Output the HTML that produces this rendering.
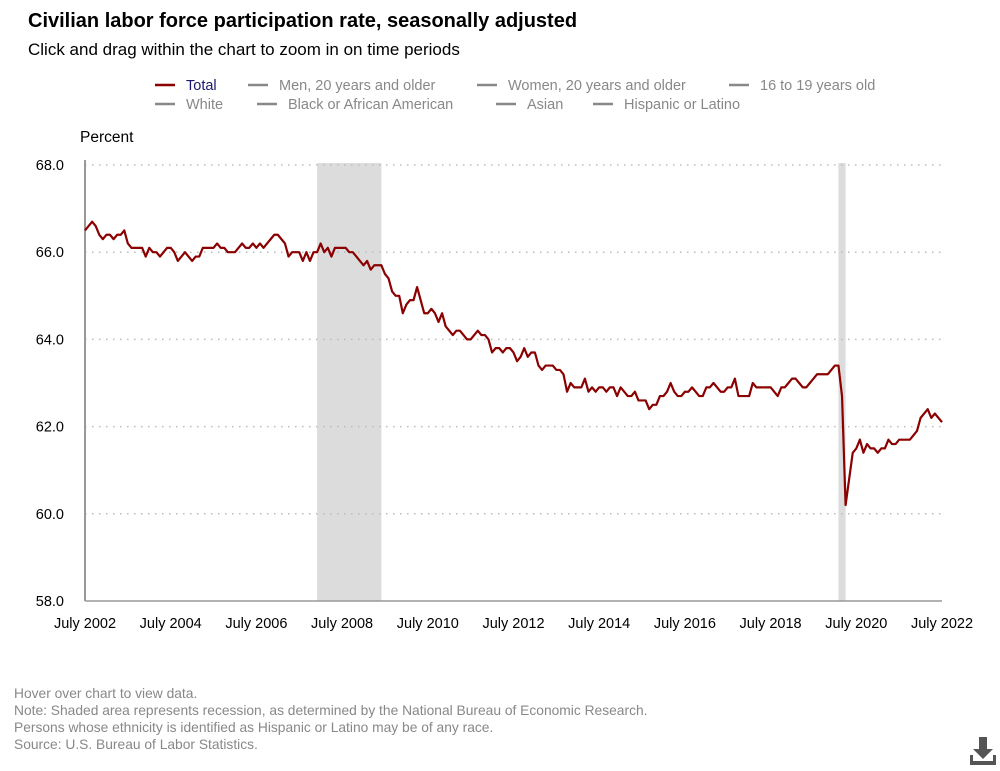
<!DOCTYPE html>
<html><head><meta charset="utf-8"><style>
body{margin:0;background:#fff;font-family:"Liberation Sans",Arial,sans-serif;}
#wrap{position:relative;width:1000px;height:771px;overflow:hidden;}
.t{position:absolute;white-space:nowrap;}
</style></head><body>
<div id="wrap">
<div class="t" style="left:28px;top:10px;font-size:20px;font-weight:bold;color:#000;">Civilian labor force participation rate, seasonally adjusted</div>
<div class="t" style="left:28px;top:40px;font-size:17px;color:#000;">Click and drag within the chart to zoom in on time periods</div>
<svg id="chart" width="1000" height="771" style="position:absolute;left:0;top:0"></svg>
<div class="t" style="left:14px;top:686px;font-size:13.8px;color:#888;">Hover over chart to view data.</div>
<div class="t" style="left:14px;top:703px;font-size:13.8px;color:#888;">Note: Shaded area represents recession, as determined by the National Bureau of Economic Research.</div>
<div class="t" style="left:14px;top:720px;font-size:13.8px;color:#888;">Persons whose ethnicity is identified as Hispanic or Latino may be of any race.</div>
<div class="t" style="left:14px;top:737px;font-size:13.8px;color:#888;">Source: U.S. Bureau of Labor Statistics.</div>
<svg width="30" height="34" style="position:absolute;left:968px;top:735px">
<path d="M11 2h8v12h6l-10 10-10-10h6z" fill="#555"/><rect x="2" y="26" width="26" height="4" fill="#555"/><rect x="2" y="20" width="3" height="8" fill="#555"/><rect x="25" y="20" width="3" height="8" fill="#555"/>
</svg>
</div>
<script>
const legendLabels=["Total","Men, 20 years and older","Women, 20 years and older","16 to 19 years old","White","Black or African American","Asian","Hispanic or Latino"];
const yTicks=[58,60,62,64,66,68];
const xTickLabels=["July 2002","July 2004","July 2006","July 2008","July 2010","July 2012","July 2014","July 2016","July 2018","July 2020","July 2022"];
const recessions=[[65,83],[211,213]];
const totalRate=[
66.5,66.6,66.7,66.6,66.4,66.3,
66.4,66.4,66.3,66.4,66.4,66.5,66.2,66.1,66.1,66.1,66.1,65.9,
66.1,66.0,66.0,65.9,66.0,66.1,66.1,66.0,65.8,65.9,66.0,65.9,
65.8,65.9,65.9,66.1,66.1,66.1,66.1,66.2,66.1,66.1,66.0,66.0,
66.0,66.1,66.2,66.1,66.1,66.2,66.1,66.2,66.1,66.2,66.3,66.4,
66.4,66.3,66.2,65.9,66.0,66.0,66.0,65.8,66.0,65.8,66.0,66.0,
66.2,66.0,66.1,65.9,66.1,66.1,66.1,66.1,66.0,66.0,65.9,65.8,
65.7,65.8,65.6,65.7,65.7,65.7,65.5,65.4,65.1,65.0,65.0,64.6,
64.8,64.9,64.9,65.2,64.9,64.6,64.6,64.7,64.6,64.4,64.6,64.3,
64.2,64.1,64.2,64.2,64.1,64.0,64.0,64.1,64.2,64.1,64.1,64.0,
63.7,63.8,63.8,63.7,63.8,63.8,63.7,63.5,63.6,63.8,63.6,63.7,
63.7,63.4,63.3,63.4,63.4,63.4,63.3,63.3,63.2,62.8,63.0,62.9,
62.9,62.9,63.1,62.8,62.9,62.8,62.9,62.9,62.8,62.9,62.9,62.7,
62.9,62.8,62.7,62.7,62.8,62.6,62.6,62.6,62.4,62.5,62.5,62.7,
62.7,62.8,63.0,62.8,62.7,62.7,62.8,62.8,62.9,62.8,62.7,62.7,
62.9,62.9,63.0,62.9,62.8,62.8,62.9,62.9,63.1,62.7,62.7,62.7,
62.7,63.0,62.9,62.9,62.9,62.9,62.9,62.8,62.7,62.9,62.9,63.0,
63.1,63.1,63.0,62.9,62.9,63.0,63.1,63.2,63.2,63.2,63.2,63.3,
63.4,63.4,62.7,60.2,60.8,61.4,61.5,61.7,61.4,61.6,61.5,61.5,
61.4,61.5,61.5,61.7,61.6,61.6,61.7,61.7,61.7,61.7,61.8,61.9,
62.2,62.3,62.4,62.2,62.3,62.2,62.1];

const NS="http://www.w3.org/2000/svg";
const svg=document.getElementById('chart');
const X0=85,X1=942,Y0=601,Y1=165;
const nMonths=240;
function xs(i){return X0+(X1-X0)*i/nMonths;}
function ys(v){return Y0-(v-58)/(68-58)*(Y0-Y1);}
function mk(tag,attrs){const e=document.createElementNS(NS,tag);for(const k in attrs)e.setAttribute(k,attrs[k]);svg.appendChild(e);return e;}

recessions.forEach(r=>{
  const e=mk('rect',{x:xs(r[0]),y:Y1-2,width:xs(r[1])-xs(r[0]),height:Y0-Y1+2,fill:'#dcdcdc'});
  
  
});
yTicks.forEach(v=>{
  if(v>58){const g=mk('line',{x1:X0,x2:X1,y1:ys(v),y2:ys(v),stroke:'#bbb','stroke-width':1.5,'stroke-dasharray':'1.5,5.5'});
  
  }
  const t=mk('text',{x:64,y:ys(v)+5,'text-anchor':'end','font-size':14.5,fill:'#000','font-family':'Liberation Sans, sans-serif'});
  t.textContent=v.toFixed(1);
  
  
});
const ax=mk('line',{x1:X0,x2:X0,y1:Y1-5,y2:Y0,stroke:'#999','stroke-width':2});


const bx=mk('line',{x1:X0,x2:X1,y1:Y0,y2:Y0,stroke:'#999','stroke-width':1.5});


const yt=mk('text',{x:80,y:142,'font-size':15.5,fill:'#000','font-family':'Liberation Sans, sans-serif'});
yt.textContent='Percent';


xTickLabels.forEach((l,i)=>{
  const t=mk('text',{x:xs(i*24),y:628,'text-anchor':'middle','font-size':14.5,fill:'#000','font-family':'Liberation Sans, sans-serif'});
  t.textContent=l;
  
  
});
const pts=totalRate.map((v,i)=>xs(i).toFixed(2)+','+ys(v).toFixed(2)).join(' ');
const line=mk('polyline',{points:pts,fill:'none',stroke:'#8b0000','stroke-width':2.2,'stroke-linejoin':'round'});



const legPos=[[155,85],[248,85],[477,85],[729,85],[155,104],[257,104],[496,104],[593,104]];
legendLabels.forEach((l,i)=>{
  const [lx,ly]=legPos[i];
  const g=document.createElementNS(NS,'g');
  
  
  svg.appendChild(g);
  const ln=document.createElementNS(NS,'line');
  ln.setAttribute('x1',lx);ln.setAttribute('x2',lx+20);ln.setAttribute('y1',ly);ln.setAttribute('y2',ly);
  ln.setAttribute('stroke',i===0?'#8b0000':'#888');ln.setAttribute('stroke-width',2.5);
  g.appendChild(ln);
  const t=document.createElementNS(NS,'text');
  t.setAttribute('x',lx+31);t.setAttribute('y',ly+5);t.setAttribute('font-size',14.5);
  t.setAttribute('font-family','Liberation Sans, sans-serif');
  t.setAttribute('fill',i===0?'#1a1a6e':'#888');
  t.textContent=l;
  g.appendChild(t);
});
</script>
</body></html>
